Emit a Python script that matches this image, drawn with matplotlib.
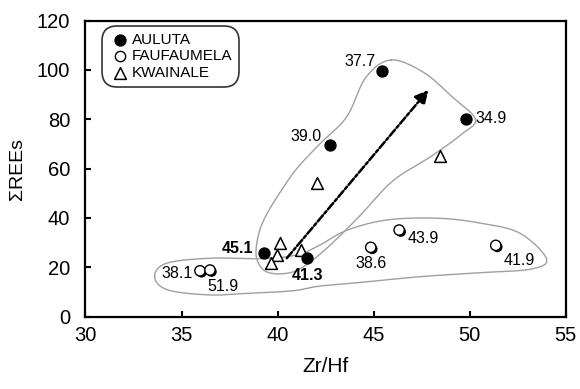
import numpy as np
import matplotlib
matplotlib.use("Agg")
import matplotlib.pyplot as plt
import matplotlib.patheffects as pe

plt.rcParams['font.family'] = ['Liberation Sans', 'DejaVu Sans']

# ---- data ----
aul_x = [45.43, 49.82, 42.73, 39.30, 41.52]
aul_y = [99.7, 80.1, 69.6, 25.7, 23.7]
aul_lab = ['37.7', '34.9', '39.0', '45.1', '41.3']

fau_x = [35.96, 36.48, 46.33, 44.85, 51.36]
fau_y = [18.6, 18.9, 35.1, 28.1, 28.9]
fau_lab = ['38.1', '51.9', '43.9', '38.6', '41.9']

kwa_x = [42.04, 48.46, 40.13, 39.96, 39.64, 41.21]
kwa_y = [54.1, 64.9, 29.7, 25.0, 21.6, 27.0]

arrow_start = (40.48, 23.7)
arrow_end = (47.86, 91.9)

# envelope control points
env1_x = [45.9, 47.6, 49.1, 50.3, 49.6, 48.0, 46.0, 44.3, 42.6, 41.3, 40.4, 39.4, 38.9, 39.0, 39.4, 40.1, 41.0, 42.2, 43.6, 44.6]
env1_y = [104, 99, 89, 80, 74, 65, 55, 41, 28, 20, 17.5, 18.3, 24, 33, 41, 50, 60, 70, 81, 97]
env2_x = [33.6, 34.2, 36.5, 39.1, 41.0, 42.2, 43.6, 45.7, 48.3, 50.5, 52.6, 54.0, 53.2, 50.5, 47.4, 44.5, 42.2, 40.8, 38.5, 36.5, 34.3]
env2_y = [16.0, 21.6, 23.7, 23.5, 25.0, 29.0, 35.0, 39.2, 39.9, 38.0, 33.9, 23.5, 19.3, 17.8, 16.2, 14.0, 12.4, 10.5, 9.5, 8.8, 10.8]


def closed_spline(xs, ys, n=30):
    p = np.column_stack([xs, ys]).astype(float)
    m = len(p)
    out = []
    t = np.linspace(0, 1, n, endpoint=False)[:, None]
    for i in range(m):
        p0, p1, p2, p3 = p[(i - 1) % m], p[i], p[(i + 1) % m], p[(i + 2) % m]
        seg = 0.5 * ((2 * p1) + (-p0 + p2) * t + (2 * p0 - 5 * p1 + 4 * p2 - p3) * t ** 2
                     + (-p0 + 3 * p1 - 3 * p2 + p3) * t ** 3)
        out.append(seg)
    out = np.vstack(out)
    out = np.vstack([out, out[:1]])
    return out[:, 0], out[:, 1]


fig = plt.figure(figsize=(5.8, 3.89), dpi=100)
ax = fig.add_axes([0.1474, 0.1859, 0.8279, 0.7614])
ax.set_xlim(30, 55)
ax.set_ylim(0, 120)

for ex, ey in [(env1_x, env1_y), (env2_x, env2_y)]:
    sx, sy = closed_spline(ex, ey)
    ax.plot(sx, sy, color='#a0a0a0', lw=1.0, zorder=1)

ax.annotate('', xy=arrow_end, xytext=arrow_start,
            arrowprops=dict(arrowstyle='-|>', color='black', lw=1.8,
                            linestyle=(0, (3.2, 1.0, 1.2, 1.0)), mutation_scale=20,
                            shrinkA=0, shrinkB=0), zorder=2)

shadow = [pe.SimplePatchShadow(offset=(1.2, -1.2), shadow_rgbFace='black', alpha=1.0), pe.Normal()]

ax.scatter(aul_x, aul_y, s=62, c='black', marker='o', zorder=4)
ax.scatter(fau_x, fau_y, s=55, facecolors='white', edgecolors='black', linewidths=1.0,
           marker='o', zorder=4, path_effects=shadow)
ax.scatter(kwa_x, kwa_y, s=72, facecolors='white', edgecolors='black', linewidths=1.1,
           marker='^', zorder=3)

# legend proxies
h1 = ax.scatter([], [], s=62, c='black', marker='o')
h2 = ax.scatter([], [], s=55, facecolors='white', edgecolors='black', linewidths=1.0, marker='o')
h3 = ax.scatter([], [], s=72, facecolors='white', edgecolors='black', linewidths=1.1, marker='^')
leg = ax.legend([h1, h2, h3], ['AULUTA', 'FAUFAUMELA', 'KWAINALE'], loc='upper left',
                bbox_to_anchor=(0.0344, 0.9814), fontsize=11, frameon=True, fancybox=True,
                handletextpad=0.1, labelspacing=0.16, borderpad=0.45, handlelength=1.4,
                borderaxespad=0)
fr = leg.get_frame()
fr.set_edgecolor('black')
fr.set_linewidth(1.2)
fr.set_boxstyle('round,pad=0,rounding_size=1.0')

# point labels (offsets in pixels)
aul_off = [(-6, 9, 'right', 'center'), (9, 0, 'left', 'center'), (-8, 8, 'right', 'center'),
           (-11, 5, 'right', 'center'), (1, -17, 'center', 'center')]
for x, y, t, (dx, dy, ha, va), bold in zip(aul_x, aul_y, aul_lab, aul_off,
                                          [False, False, False, True, True]):
    ax.annotate(t, (x, y), xytext=(dx, dy), textcoords='offset pixels', ha=ha, va=va,
                fontsize=11.5, fontweight='bold' if bold else 'normal', zorder=5)
fau_off = [(-7, -3, 'right', 'center'), (13, -16, 'center', 'center'), (8, -8, 'left', 'center'),
           (0, -16, 'center', 'center'), (8, -15, 'left', 'center')]
for x, y, t, (dx, dy, ha, va) in zip(fau_x, fau_y, fau_lab, fau_off):
    ax.annotate(t, (x, y), xytext=(dx, dy), textcoords='offset pixels', ha=ha, va=va,
                fontsize=11.5, zorder=5)

ax.set_xticks([30, 35, 40, 45, 50, 55])
ax.set_yticks([0, 20, 40, 60, 80, 100, 120])
ax.tick_params(direction='in', length=4.5, width=1.5, labelsize=14.5, colors='black')
ax.tick_params(axis='x', pad=7, top=False)
ax.tick_params(axis='y', pad=11, right=False)
for s in ax.spines.values():
    s.set_linewidth(1.6)
    s.set_color('black')

ax.set_xlabel('Zr/Hf', fontsize=15, labelpad=8)
ax.set_ylabel('ΣREEs', fontsize=14, labelpad=8)

fig.savefig('out.png', dpi=100)
